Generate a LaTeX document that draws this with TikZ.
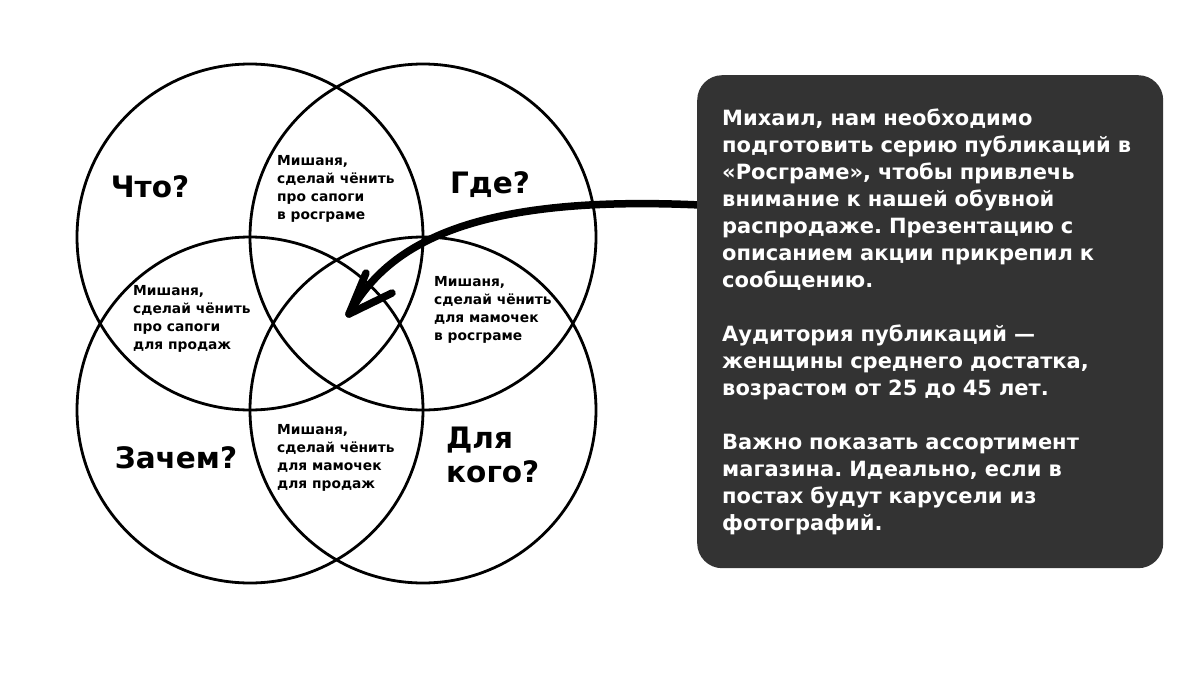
\documentclass[tikz,border=0pt]{standalone}
\usepackage{fontspec}
\setmainfont{DejaVu Sans}
\usetikzlibrary{positioning}
\definecolor{boxgray}{RGB}{51,51,51}
\frenchspacing
\tikzset{
  ring/.style={shape=circle,draw=black,line width=2.8pt,minimum size=346pt,inner sep=0pt},
  biglabel/.style={font=\bfseries\fontsize{29.5}{34}\selectfont,align=left,inner sep=0pt},
  smalllabel/.style={font=\bfseries\fontsize{13.8}{18}\selectfont,align=left,inner sep=0pt,anchor=west},
  arrowline/.style={draw=black,line width=7.5pt,line cap=round,line join=round}
}
\begin{document}
\begin{tikzpicture}[x=1pt,y=-1pt]
                  \useasboundingbox (0,0) rectangle (1200,675);
                  % circles
                  \node[ring] (what) at (250,237) {};
                  \node[ring] (where) at (423,237) {};
                  \node[ring] (why) at (250,410) {};
                  \node[ring] (whom) at (423,410) {};

                  % labels
                  \node[biglabel] (lwhat) at (150,187) {Что?};
                  \node[biglabel] (lwhere) at (490,185) {Где?};
                  \node[biglabel] (lwhy) at (176,458) {Зачем?};
                  \node[biglabel,anchor=west] (lwhom) at (446,455) {Для\\кого?};

                  % overlaps
                  \node[smalllabel] (top) at (277,189) {Мишаня,\\сделай чёнить\\про сапоги\\в росграме};
                  \node[smalllabel] (left) at (133,319) {Мишаня,\\сделай чёнить\\про сапоги\\для продаж};
                  \node[smalllabel] (right) at (434,310) {Мишаня,\\сделай чёнить\\для мамочек\\в росграме};
                  \node[smalllabel] (bottom) at (277,458) {Мишаня,\\сделай чёнить\\для мамочек\\для продаж};

                  % arrow
                  \coordinate (src) at (700,205);
                  \coordinate (tip) at (349,314);
                  \coordinate (wingup) at (366,273);
                  \coordinate (wingdown) at (392,293);
                  \path[arrowline] (src) .. controls (480,195) and (390,240) .. (tip);
                  \path[arrowline] (wingup) -- (tip) -- (wingdown);

                  % message
                  \node[fill=boxgray,rounded corners=25pt,anchor=north west,text=white,
                        font=\bfseries\fontsize{21}{27}\selectfont,align=left,
                        text width=416pt,inner xsep=25pt,minimum height=493pt] (msg) at (697,75)
                        {Михаил, нам необходимо\\подготовить серию публикаций в\\«Росграме», чтобы привлечь\\внимание к нашей обувной\\распродаже. Презентацию с\\описанием акции прикрепил к\\сообщению.\\[27pt]Аудитория публикаций —\\женщины среднего достатка,\\возрастом от 25 до 45 лет.\\[27pt]Важно показать ассортимент\\магазина. Идеально, если в\\постах будут карусели из\\фотографий.};
              \end{tikzpicture}
\end{document}
